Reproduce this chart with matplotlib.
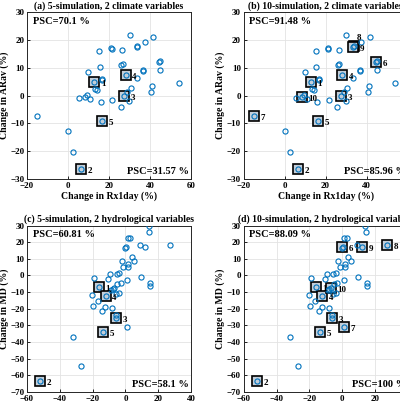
import numpy as np
import matplotlib.pyplot as plt

plt.rcParams['font.family'] = ['Liberation Serif', 'DejaVu Serif']
plt.rcParams['font.weight'] = 'bold'

# climate variables: change in Rx1day (%) vs change in ARav (%)
clim_x = [-15.0, 0.2, 2.5, 6.5, 5.5, 8.5, 9.5, 10.8, 9.8, 12.8, 13.3, 14.3,
          15.5, 15.3, 16.8, 16.8, 16.0, 16.5, 21.0, 21.4, 21.6, 25.8, 26.4,
          25.9, 26.7, 28.1, 27.4, 30.0, 30.6, 28.8, 29.8, 33.5, 33.7, 33.5,
          37.5, 36.7, 36.7, 41.6, 40.6, 41.0, 44.5, 44.9, 45.1, 54.0]
clim_y = [-7.3, -12.9, -20.4, -26.5, -0.9, -0.5, 0.3, -1.2, 8.6, 4.8, 2.5, 2.0,
          10.4, 16.0, 6.2, 5.6, -2.3, -9.2, 17.2, 17.0, -1.4, -4.1, 16.3,
          11.1, 11.5, 7.6, 0.0, 22.0, 2.9, 1.2, -1.8, 6.4, 17.9, 17.6,
          19.3, 8.8, 9.2, 21.0, 1.4, 3.5, 12.1, 12.4, 9.2, 4.6]

# selected simulations (1..10)
sim_clim_x = [12.8, 6.5, 27.4, 28.1, 16.5, 44.7, -15.0, 33.7, 33.5, 8.5]
sim_clim_y = [4.8, -26.5, 0.0, 7.6, -9.2, 12.2, -7.3, 17.9, 17.6, -0.5]

# hydrological variables: change vs change in MD (%)
hyd_x = [-52.0, -26.8, -31.8, -13.4, -6.0, -6.0, 1.0, -16.2, -12.0, -19.2,
         -20.2, -16.8, -19.8, -14.0, -12.5, -8.3, -9.2, -10.6, -7.0, -7.8,
         -8.6, -5.6, -3.8, -5.4, -3.9, -4.9, -2.9, -2.3, -1.3, -0.3, 0.6,
         1.4, 2.9, 1.5, 1.5, 1.0, 3.8, 5.2, 9.0, 12.2, 9.4, 14.2, 14.5,
         15.0, 15.0, 27.2]
hyd_y = [-63.3, -54.5, -37.2, -33.8, -25.7, -23.9, -31.0, -6.9, -12.3, -1.3,
         -11.5, -15.3, -18.3, -21.6, -19.0, -19.3, 0.9, -2.0, -7.5, -8.2,
         -8.8, -11.0, -10.6, 0.7, 1.6, -5.0, -4.6, 8.6, 4.9, 16.8, 16.9,
         22.6, 22.3, 7.2, 5.0, -3.0, 11.0, 8.8, 18.1, 16.9, -1.1, 29.5, 25.9,
         -4.6, -6.3, 18.3]

sim_hyd_x = [-16.2, -52.0, -6.0, -12.0, -13.4, 0.2, 1.0, 27.2, 12.2, -7.0]
sim_hyd_y = [-6.9, -63.3, -25.7, -12.3, -33.8, 17.0, -31.0, 18.3, 16.9, -7.5]

titles = ['(a) 5-simulation, 2 climate variables',
          '(b) 10-simulation, 2 climate variables',
          '(c) 5-simulation, 2 hydrological variables',
          '(d) 10-simulation, 2 hydrological variables']
psc_top = ['PSC=70.1 %', 'PSC=91.48 %', 'PSC=60.81 %', 'PSC=88.09 %']
psc_bot = ['PSC=31.57 %', 'PSC=85.96 %', 'PSC=58.1 %', 'PSC=100 %']

blue = '#0072BD'

fig = plt.figure(figsize=(4.0, 4.03), dpi=100)
w, h = 0.41, 0.413
positions = [(0.0675, 0.556), (0.609, 0.556), (0.0675, 0.0273), (0.6093, 0.0273)]

for i, (left, bottom) in enumerate(positions):
    ax = fig.add_axes([left, bottom, w, h])
    if i < 2:
        px, py, sx, sy = clim_x, clim_y, sim_clim_x, sim_clim_y
        ax.set_xlim(-20, 60)
        ax.set_ylim(-30, 30)
        ax.set_xticks(np.arange(-20, 61, 20))
        ax.set_yticks(np.arange(-30, 31, 10))
        ax.set_xlabel('Change in Rx1day (%)', fontsize=7, fontweight='bold', labelpad=1)
        ax.set_ylabel('Change in ARav (%)', fontsize=7, fontweight='bold', labelpad=1)
    else:
        px, py, sx, sy = hyd_x, hyd_y, sim_hyd_x, sim_hyd_y
        ax.set_xlim(-60, 40)
        ax.set_ylim(-70, 30)
        ax.set_xticks(np.arange(-60, 41, 20))
        ax.set_yticks(np.arange(-70, 31, 10))
        ax.set_ylabel('Change in MD (%)', fontsize=7, fontweight='bold', labelpad=1)
    n = 5 if i % 2 == 0 else 10

    ax.grid(True, color='#e3e3e3', linewidth=0.6)
    ax.set_axisbelow(True)
    ax.tick_params(direction='in', length=2.5, width=0.6, labelsize=6.5, pad=2)
    for lab in ax.get_xticklabels() + ax.get_yticklabels():
        lab.set_fontweight('bold')
    for sp in ax.spines.values():
        sp.set_color('#262626')
        sp.set_linewidth(0.7)

    ax.plot(sx[:n], sy[:n], 's', markersize=7, markerfacecolor='#c3ced9',
            markeredgecolor='black', markeredgewidth=1.2, zorder=3)
    ax.plot(px, py, 'o', markersize=3.7, markerfacecolor='none',
            markeredgecolor=blue, markeredgewidth=0.8, zorder=4)

    for k in range(n):
        off = (4.8, -1.5)
        if k == 7 and i == 1:
            off = (2, 6)
        ax.annotate(str(k + 1), (sx[k], sy[k]), xytext=off, textcoords='offset points',
                    fontsize=6.5, fontweight='bold', ha='left', va='center', zorder=5)

    ax.set_title(titles[i], fontsize=7, fontweight='bold', pad=3)
    ax.text(0.035, 0.945, psc_top[i], transform=ax.transAxes, fontsize=7.5,
            fontweight='bold', ha='left', va='center')
    ax.text(0.99, 0.045, psc_bot[i], transform=ax.transAxes, fontsize=7.5,
            fontweight='bold', ha='right', va='center')

fig.savefig('out.png', dpi=100)
